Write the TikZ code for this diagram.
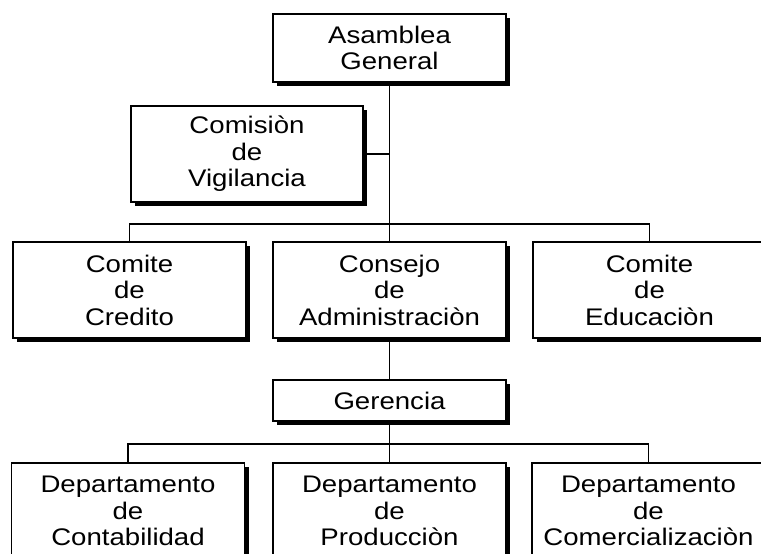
\documentclass[tikz,border=0pt]{standalone}
\usepackage{fontspec}
\setmainfont{Liberation Sans}[FakeStretch=1.15]
\usetikzlibrary{shadows}
\begin{document}
\begin{tikzpicture}[x=1pt,y=-1pt,
  orgbox/.style={draw=black, line width=1.2pt, fill=white, minimum width=233pt,
    inner sep=0pt, align=center, font=\fontsize{24}{26.5}\selectfont,
    general shadow={fill=black, shadow xshift=4pt, shadow yshift=-4pt}},
  tall/.style={orgbox, minimum height=96pt},
  link/.style={line width=1.3pt}]
\useasboundingbox (0,0) rectangle (761,554);
\clip (0,0) rectangle (761,554);
\node[orgbox, minimum height=68pt] (ag) at (389.5,48) {Asamblea\\General};
\node[tall, minimum width=232pt] (cv) at (247,154) {Comisiòn\\de\\Vigilancia};
\node[tall] (cc) at (129.5,290) {Comite\\de\\Credito};
\node[tall] (ca) at (389.5,290) {Consejo\\de\\Administraciòn};
\node[tall] (ce) at (649.5,290) {Comite\\de\\Educaciòn};
\node[orgbox, minimum height=41pt] (ge) at (389.5,400.5) {Gerencia};
\node[tall] (dc) at (128,511) {Departamento\\de\\Contabilidad};
\node[tall] (dp) at (389.5,511) {Departamento\\de\\Producciòn};
\node[tall] (dm) at (648.5,511) {Departamento\\de\\Comercializaciòn};
\coordinate (bus1) at (389.5,224);
\coordinate (bus2) at (389.5,444);
\draw[link] (ag) -- (ca);
\draw[link] (cv.east) -- (cv.east -| ag.south);
\draw[link] (cc.north) |- (bus1) -| (ce.north);
\draw[link] (ca) -- (ge);
\draw[link] (ge) -- (dp);
\draw[link] (dc.north) |- (bus2) -| (dm.north);
\end{tikzpicture}
\end{document}
